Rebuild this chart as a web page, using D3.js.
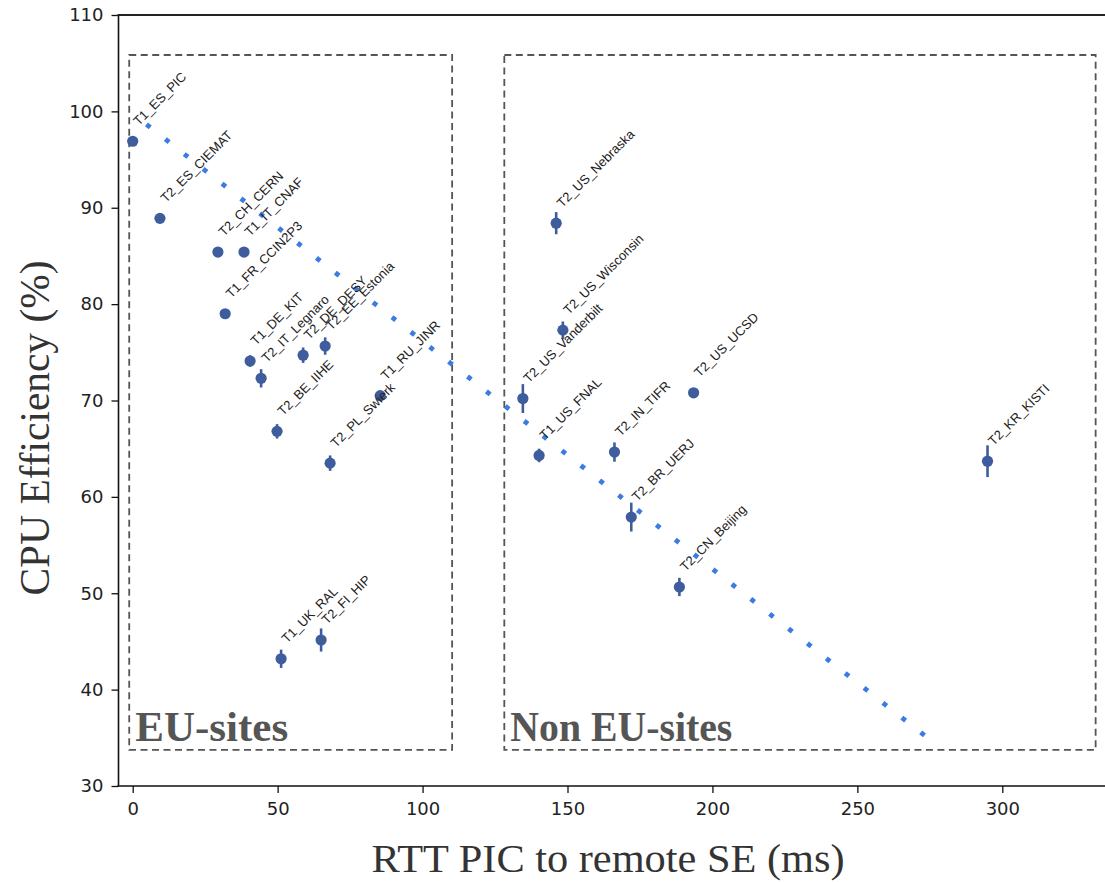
<!DOCTYPE html>
<html>
<head>
<meta charset="utf-8">
<script src="https://cdn.jsdelivr.net/npm/d3@7"></script>
<style>
  html, body { margin: 0; padding: 0; background: #fff; }
  svg { display: block; }
</style>
</head>
<body>
<svg id="chart" width="1105" height="882"></svg>
<script>
// ---------------- data ----------------
const sites = ["T1_ES_PIC", "T2_ES_CIEMAT", "T2_CH_CERN", "T1_IT_CNAF", "T1_FR_CCIN2P3",
  "T1_DE_KIT", "T2_IT_Legnaro", "T2_DE_DESY", "T2_EE_Estonia", "T2_BE_IIHE", "T1_RU_JINR",
  "T2_PL_Swierk", "T1_UK_RAL", "T2_FI_HIP", "T2_US_Nebraska", "T2_US_Wisconsin",
  "T2_US_Vanderbilt", "T1_US_FNAL", "T2_IN_TIFR", "T2_US_UCSD", "T2_BR_UERJ",
  "T2_CN_Beijing", "T2_KR_KISTI"];
const rtt = [0, 9.4, 29.4, 38.4, 31.9, 40.5, 44.3, 58.8, 66.4, 49.8, 85.4, 68.1, 51.2, 65.0,
  146.1, 148.4, 134.6, 140.2, 166.2, 193.5, 172.0, 188.6, 294.9];
const efficiency = [96.9, 88.9, 85.4, 85.4, 79.0, 74.1, 72.3, 74.7, 75.65, 66.8, 70.5, 63.5,
  43.2, 45.15, 88.4, 77.3, 70.2, 64.3, 64.65, 70.8, 57.9, 50.65, 63.7];
const effError = [0.3, 0.3, 0.3, 0.3, 0.4, 0.6, 0.95, 0.8, 0.9, 0.75, 0.5, 0.8, 0.95, 1.2,
  1.15, 0.9, 1.5, 0.7, 1.0, 0.5, 1.5, 0.95, 1.65];

// linear trend (endpoints)
const fitX = [5.4, 272.5];
const fitY = [98.5, 35.4];

// region boxes
const regionNames = ["EU-sites", "Non EU-sites"];
const regionX0 = [-1.2, 128.2];
const regionX1 = [110.2, 332.2];
const regionY0 = [33.74, 33.74];
const regionY1 = [105.85, 105.85];

const xTicks = [0, 50, 100, 150, 200, 250, 300];
const yTicks = [30, 40, 50, 60, 70, 80, 90, 100, 110];
const xTitle = "RTT PIC to remote SE (ms)";
const yTitle = "CPU Efficiency (%)";

// ---------------- layout ----------------
const svg = d3.select("#chart");
svg.append("rect").attr("width", 1105).attr("height", 882).attr("fill", "#fff");

const x = d3.scaleLinear().domain([0, 300]).range([132.7, 1002.3]);
const y = d3.scaleLinear().domain([30, 110]).range([786, 15]);
const plotLeft = 118.5, plotRight = 1105, plotTop = 15, plotBottom = 786;

const tickFont = "'DejaVu Sans', sans-serif";
const serif = "'Liberation Serif', 'DejaVu Serif', serif";

// region boxes
const boxes = svg.append("g");
regionNames.forEach((name, i) => {
  boxes.append("rect")
    .attr("x", x(regionX0[i])).attr("y", y(regionY1[i]))
    .attr("width", x(regionX1[i]) - x(regionX0[i]))
    .attr("height", y(regionY0[i]) - y(regionY1[i]))
    .attr("fill", "none").attr("stroke", "#555").attr("stroke-width", 1.8)
    .attr("stroke-dasharray", "7,4.5");
});

// region labels
const labelWidths = [153, 222];
regionNames.forEach((name, i) => {
  svg.append("text")
    .attr("x", x(regionX0[i]) + 6).attr("y", y(regionY0[i]) - 9)
    .attr("font-family", serif).attr("font-weight", "bold")
    .attr("font-size", 42).attr("fill", "#555")
    .attr("textLength", labelWidths[i]).attr("lengthAdjust", "spacingAndGlyphs")
    .text(name);
});

// trend line (dotted diamonds): a dashed path through the two scaled endpoints
const p0 = [x(fitX[0]), y(fitY[0])], p1 = [x(fitX[1]), y(fitY[1])];
const dx = p1[0] - p0[0], dy = p1[1] - p0[1];
const len = Math.hypot(dx, dy), ux = dx / len, uy = dy / len;
const dot = 4.8, ext = dot / 2;
const period = len / 41;
svg.append("path")
  .datum([[p0[0] - ux * ext, p0[1] - uy * ext], [p1[0] + ux * ext, p1[1] + uy * ext]])
  .attr("d", d3.line())
  .attr("fill", "none").attr("stroke", "#3b7be2").attr("stroke-width", 4.8)
  .attr("stroke-dasharray", `${dot},${period - dot}`);

// error bars + markers
const col = "#3f5d9c";
const pts = svg.append("g");
sites.forEach((s, i) => {
  pts.append("line")
    .attr("x1", x(rtt[i])).attr("x2", x(rtt[i]))
    .attr("y1", y(efficiency[i] - effError[i])).attr("y2", y(efficiency[i] + effError[i]))
    .attr("stroke", col).attr("stroke-width", 2.6);
  pts.append("circle")
    .attr("cx", x(rtt[i])).attr("cy", y(efficiency[i])).attr("r", 5.6)
    .attr("fill", col);
});

// point labels
const labs = svg.append("g");
sites.forEach((s, i) => {
  labs.append("text")
    .attr("transform", `translate(${x(rtt[i]) + 6},${y(efficiency[i]) - 15}) rotate(-45)`)
    .attr("font-family", "'Liberation Sans', Arial, sans-serif")
    .attr("font-size", 13).attr("fill", "#222")
    .text(s);
});

// axes
const yAxis = svg.append("g").attr("transform", `translate(${plotLeft},0)`)
  .call(d3.axisLeft(y).tickValues(yTicks).tickSize(7).tickPadding(8).tickFormat(d3.format("d")));
const xAxis = svg.append("g").attr("transform", `translate(0,${plotBottom})`)
  .call(d3.axisBottom(x).tickValues(xTicks).tickSize(7).tickPadding(9).tickFormat(d3.format("d")));
[yAxis, xAxis].forEach(a => {
  a.select(".domain").remove();
  a.selectAll(".tick line").attr("stroke", "#111").attr("stroke-width", 1.3);
  a.selectAll(".tick text").attr("font-family", tickFont).attr("font-size", 18).attr("fill", "#222");
});

// spines
svg.append("line").attr("x1", plotLeft).attr("x2", plotLeft).attr("y1", plotTop).attr("y2", plotBottom)
  .attr("stroke", "#111").attr("stroke-width", 1.6);
svg.append("line").attr("x1", plotLeft - 1).attr("x2", plotRight).attr("y1", plotBottom).attr("y2", plotBottom)
  .attr("stroke", "#111").attr("stroke-width", 1.6);
svg.append("line").attr("x1", plotLeft - 1).attr("x2", plotRight).attr("y1", plotTop).attr("y2", plotTop)
  .attr("stroke", "#222").attr("stroke-width", 1.8);

// axis titles
svg.append("text")
  .attr("x", 608).attr("y", 872).attr("text-anchor", "middle")
  .attr("font-family", serif).attr("font-size", 41).attr("fill", "#333")
  .attr("textLength", 473).attr("lengthAdjust", "spacingAndGlyphs")
  .text(xTitle);
svg.append("text")
  .attr("transform", "translate(49,428) rotate(-90)").attr("text-anchor", "middle")
  .attr("font-family", serif).attr("font-size", 43).attr("fill", "#333")
  .attr("textLength", 335).attr("lengthAdjust", "spacingAndGlyphs")
  .text(yTitle);
</script>
</body>
</html>
